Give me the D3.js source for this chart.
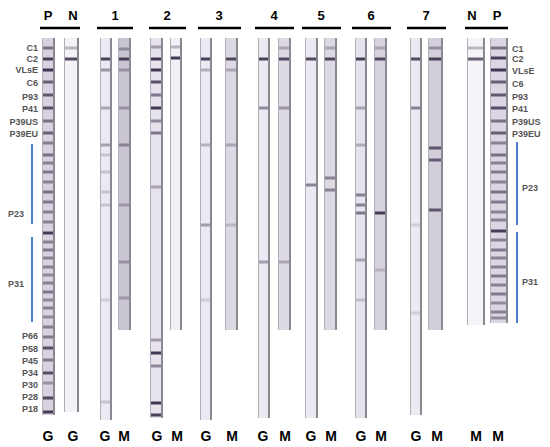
<!DOCTYPE html>
<head>
<meta charset="utf-8">
<script src="https://d3js.org/d3.v7.min.js"></script>
<style>
  body { margin: 0; background: #fff; }
  text { font-family: Arial, "Liberation Sans", sans-serif; font-weight: bold; }
</style>
</head>
<body>
<script>
// header groups: bar start, bar end
var groupBars = [[40, 80], [97, 133], [149, 186], [198, 241], [255, 294], [302, 341], [352, 391], [407, 446], [465, 508]];
var headLabels = [["P", 48], ["N", 73], ["1", 115], ["2", 167], ["3", 219], ["4", 274], ["5", 321], ["6", 371], ["7", 426], ["N", 472], ["P", 497]];

// strips: left x, width, bottom y, lane letter, tone, band list [y, strength]
var stripLeft = [42, 64, 100, 118, 150, 170, 200, 225, 258, 278, 305, 324, 355, 374, 410, 428, 467, 490];
var stripWidth = [13, 15, 12, 13, 13, 12, 12, 13, 12, 13, 13, 13, 12, 13, 12, 15, 18, 18];
var stripBottom = [415, 412, 420, 330, 418, 330, 420, 330, 418, 330, 418, 330, 418, 330, 415, 330, 325, 323];
var stripTone = ["#d8d2e0", "#f3f2f7", "#ebe9f1", "#c9c6d2", "#e6e3ec", "#f1f0f6", "#ebe9f1", "#dcd9e3",
                 "#ebe9f1", "#dcd9e3", "#ebe9f1", "#dcd9e3", "#e6e3ec", "#d6d3de", "#ebe9f1", "#d2cfda", "#f5f4f8", "#dcd6e4"];
var ladder = [[48,.6],[59,.9],[70,.95],[82,.7],[95,.75],[108,.8],[121,.6],[133,.7],[143,.5],[155,.6],[163,.5],[172,.55],
  [182,.5],[192,.6],[202,.55],[212,.5],[222,.5],[233,.9],[242,.5],[250,.55],[258,.5],[267,.5],[275,.45],[283,.5],
  [292,.55],[300,.45],[308,.5],[317,.45],[327,.5],[337,.55],[348,.8],[360,.55],[373,.8],[383,.4],[398,.85],[412,.9]];
var ladderR = [[48,.6],[58,.9],[70,.95],[82,.7],[95,.75],[108,.8],[121,.6],[133,.7],[143,.5],[155,.6],[163,.5],[172,.55],
  [182,.5],[192,.6],[202,.55],[212,.5],[220,.5],[231,.9],[240,.5],[250,.55],[258,.5],[267,.5],[276,.55],[285,.5],
  [294,.55],[303,.45],[312,.5],[318,.45]];
var stripBands = [
  ladder,
  [[48,.3],[59,.85]],
  [[59,.9],[70,.45],[108,.35],[145,.4],[155,.2],[172,.2],[192,.2],[205,.2],[300,.15],[402,.2]],
  [[49,.4],[59,.9],[70,.35],[108,.35],[145,.45],[205,.3],[262,.35],[298,.3]],
  [[47,.4],[59,.95],[70,.95],[82,.8],[95,.6],[108,.95],[121,.5],[133,.6],[187,.35],[340,.4],[353,.95],[366,.5],[403,.95],[415,.9]],
  [[47,.3],[58,.95]],
  [[59,.9],[70,.3],[145,.3],[225,.4],[300,.15]],
  [[59,.85],[70,.3],[145,.3],[225,.2]],
  [[59,.9],[108,.5],[262,.4]],
  [[48,.3],[59,.85],[108,.4],[262,.3]],
  [[59,.85],[185,.55]],
  [[48,.3],[59,.85],[178,.5],[190,.5]],
  [[59,.9],[108,.35],[145,.3],[195,.55],[205,.55],[213,.6],[260,.35],[300,.2]],
  [[48,.3],[59,.85],[213,.9],[270,.2]],
  [[59,.85],[108,.55],[225,.15],[313,.15]],
  [[48,.4],[59,.9],[148,.75],[160,.7],[210,.75]],
  [[48,.3],[59,.75]],
  ladderR
];
var bottomLetters = [["G", 48], ["G", 73], ["G", 105], ["M", 124], ["G", 157], ["M", 177], ["G", 206], ["M", 232],
  ["G", 263], ["M", 285], ["G", 311], ["M", 331], ["G", 361], ["M", 381], ["G", 416], ["M", 437], ["M", 476], ["M", 498]];
var leftLabels = [["C1", 47, 38], ["C2", 58, 38], ["VLsE", 69, 38], ["C6", 82, 38], ["P93", 96, 38], ["P41", 108, 38],
  ["P39US", 121, 38], ["P39EU", 133, 38], ["P23", 213, 24], ["P31", 283, 24], ["P66", 335, 38], ["P58", 348, 38],
  ["P45", 360, 38], ["P34", 372, 38], ["P30", 384, 38], ["P28", 396, 38], ["P18", 408, 38]];
var rightLabels = [["C1", 48, 512], ["C2", 58, 512], ["VLsE", 70, 512], ["C6", 83, 512], ["P93", 96, 512], ["P41", 108, 512],
  ["P39US", 121, 512], ["P39EU", 133, 512], ["P23", 187, 522], ["P31", 281, 522]];
var leftBlue = [[144, 224], [237, 322]], rightBlue = [[142, 225], [232, 323]];

var width = 550, height = 447;
var svg = d3.select("body").append("svg").attr("width", width).attr("height", height);
var y = d3.scaleLinear().domain([0, height]).range([0, height]);
var stripTop = 38;

svg.append("defs").append("filter").attr("id", "soft")
  .append("feGaussianBlur").attr("stdDeviation", 0.5);

// header
svg.selectAll(".bar").data(groupBars).enter().append("line")
  .attr("x1", function(d) { return d[0]; }).attr("x2", function(d) { return d[1]; })
  .attr("y1", y(28)).attr("y2", y(28)).attr("stroke", "#000").attr("stroke-width", 2.5);
svg.selectAll(".head").data(headLabels).enter().append("text")
  .attr("x", function(d) { return d[1]; }).attr("y", y(20)).attr("text-anchor", "middle")
  .attr("font-size", 13).text(function(d) { return d[0]; });

// strips
var strip = svg.selectAll(".strip").data(stripLeft).enter().append("g").attr("filter", "url(#soft)");
strip.append("rect")
  .attr("x", function(d) { return d; }).attr("y", y(stripTop))
  .attr("width", function(d, i) { return stripWidth[i]; })
  .attr("height", function(d, i) { return y(stripBottom[i]) - y(stripTop); })
  .attr("fill", function(d, i) { return stripTone[i]; });
strip.append("rect")
  .attr("x", function(d, i) { return d + stripWidth[i] - 2; }).attr("y", y(stripTop))
  .attr("width", 2).attr("height", function(d, i) { return y(stripBottom[i]) - y(stripTop); })
  .attr("fill", "#8a8890");
strip.append("rect")
  .attr("x", function(d) { return d; }).attr("y", y(stripTop))
  .attr("width", 1).attr("height", function(d, i) { return y(stripBottom[i]) - y(stripTop); })
  .attr("fill", "#b0aeb6");
strip.each(function(d, i) {
  d3.select(this).selectAll(".band").data(stripBands[i]).enter().append("rect")
    .attr("x", d + 1).attr("width", stripWidth[i] - 3)
    .attr("y", function(b) { return y(b[0]) - 1.5; }).attr("height", 3)
    .attr("fill", "#3a2c4a").attr("opacity", function(b) { return b[1]; });
});

// side labels
svg.selectAll(".ll").data(leftLabels).enter().append("text")
  .attr("x", function(d) { return d[2]; }).attr("y", function(d) { return y(d[1]) + 3.5; }).attr("text-anchor", "end")
  .attr("font-size", 9).attr("fill", "#555").text(function(d) { return d[0]; });
svg.selectAll(".rl").data(rightLabels).enter().append("text")
  .attr("x", function(d) { return d[2]; }).attr("y", function(d) { return y(d[1]) + 3.5; })
  .attr("font-size", 9).attr("fill", "#555").text(function(d) { return d[0]; });
svg.selectAll(".lb").data(leftBlue).enter().append("line")
  .attr("x1", 32).attr("x2", 32).attr("y1", function(d) { return y(d[0]); }).attr("y2", function(d) { return y(d[1]); })
  .attr("stroke", "#4a7fd0").attr("stroke-width", 2);
svg.selectAll(".rb").data(rightBlue).enter().append("line")
  .attr("x1", 517).attr("x2", 517).attr("y1", function(d) { return y(d[0]); }).attr("y2", function(d) { return y(d[1]); })
  .attr("stroke", "#4a7fd0").attr("stroke-width", 2);

// bottom lane letters
svg.selectAll(".bl").data(bottomLetters).enter().append("text")
  .attr("x", function(d) { return d[1]; }).attr("y", y(441)).attr("text-anchor", "middle")
  .attr("font-size", 14).text(function(d) { return d[0]; });
</script>
</body>
